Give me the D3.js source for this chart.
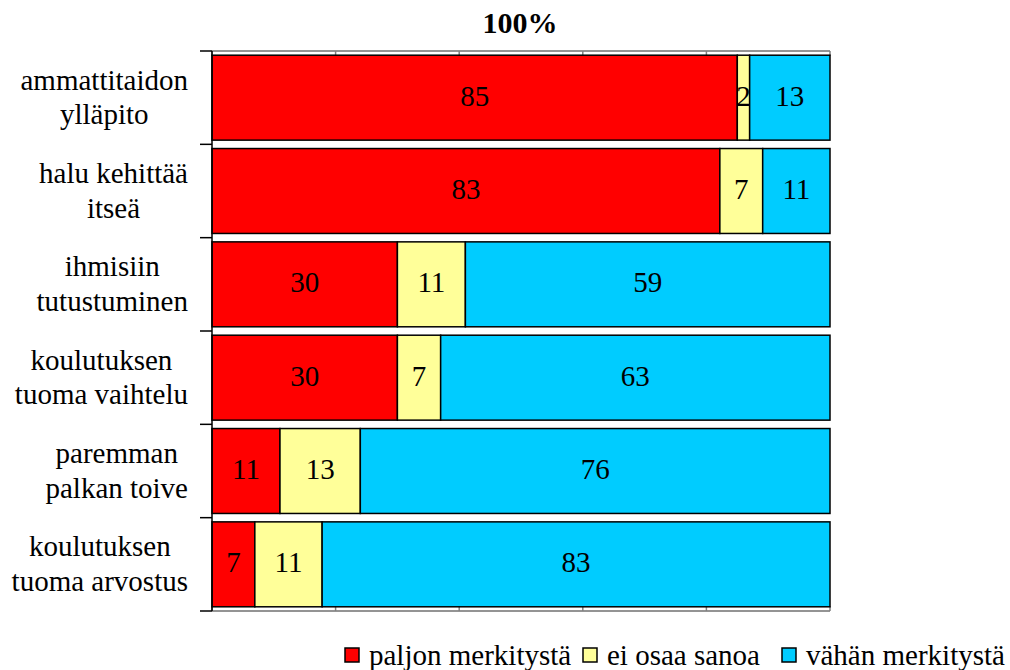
<!DOCTYPE html>
<html>
<head>
<meta charset="utf-8">
<script src="https://cdn.jsdelivr.net/npm/d3@7"></script>
<style>
  body { margin: 0; background: #fff; }
</style>
</head>
<body>
<svg width="1010" height="670"></svg>
<script>
var categories = [
  ["ammattitaidon", "ylläpito"],
  ["halu kehittää", "itseä"],
  ["ihmisiin", "tutustuminen"],
  ["koulutuksen", "tuoma vaihtelu"],
  ["paremman", "palkan toive"],
  ["koulutuksen", "tuoma arvostus"]
];
var paljon = [85, 83, 30, 30, 11, 7];
var eiOsaa = [2, 7, 11, 7, 13, 11];
var vahan  = [13, 11, 59, 63, 76, 83];
var seriesNames = ["paljon merkitystä", "ei osaa sanoa", "vähän merkitystä"];
var colors = ["#ff0000", "#ffff99", "#00ccff"];
var xTicks = [0, 20, 40, 60, 80, 100];

var FONT = "Liberation Serif";

var svg = d3.select("svg"),
    margin = {top: 51, right: 180, bottom: 60, left: 212},
    width = 830 - margin.left,
    height = 611 - margin.top;

var g = svg.append("g").attr("transform", "translate(" + margin.left + "," + margin.top + ")");

var rows = categories.map(function (c, i) {
  return {key: i, label: c, vals: [paljon[i], eiOsaa[i], vahan[i]]};
});

var x = d3.scaleLinear().domain([0, 1]).range([0, width]);
var y = d3.scaleBand().domain(d3.range(categories.length)).range([0, height]).paddingInner(0.09).paddingOuter(0.045);
var yOuter = d3.scaleBand().domain(d3.range(categories.length)).range([0, height]);

// top and bottom frame with value ticks
[0, height].forEach(function (yy, k) {
  g.append("line").attr("x1", 0).attr("x2", width).attr("y1", yy).attr("y2", yy)
    .attr("stroke", "#707070").attr("stroke-width", 1.5);
  g.selectAll(null).data(xTicks).enter().append("line")
    .attr("x1", function (d) { return x(d / 100); })
    .attr("x2", function (d) { return x(d / 100); })
    .attr("y1", yy).attr("y2", k === 0 ? yy + 5 : yy - 5)
    .attr("stroke", "#808080").attr("stroke-width", 1.5);
});

// bars
rows.forEach(function (r) {
  var total = d3.sum(r.vals), acc = 0;
  r.vals.forEach(function (v, j) {
    var x0 = x(acc / total), x1 = x((acc + v) / total);
    g.append("rect")
      .attr("x", x0).attr("y", y(r.key))
      .attr("width", x1 - x0).attr("height", y.bandwidth())
      .attr("fill", colors[j]).attr("stroke", "#000").attr("stroke-width", 1.5);
    g.append("text")
      .attr("x", (x0 + x1) / 2)
      .attr("y", y(r.key) + y.bandwidth() / 2)
      .attr("dy", "0.28em")
      .attr("text-anchor", "middle")
      .style("font-family", FONT)
      .style("font-size", "29px")
      .text(v);
    acc += v;
  });
});

// category axis
g.append("line").attr("x1", 0).attr("x2", 0).attr("y1", 0).attr("y2", height)
  .attr("stroke", "#000").attr("stroke-width", 1.5);
g.selectAll(null).data(d3.range(categories.length + 1)).enter().append("line")
  .attr("x1", -12).attr("x2", 0)
  .attr("y1", function (d) { return d * yOuter.step(); })
  .attr("y2", function (d) { return d * yOuter.step(); })
  .attr("stroke", "#000").attr("stroke-width", 1.5);

// labels: lines centred on each other, block right edge near the axis
rows.forEach(function (r) {
  var t = g.append("text")
    .attr("y", yOuter(r.key) + yOuter.bandwidth() / 2)
    .attr("text-anchor", "middle")
    .style("font-family", FONT)
    .style("font-size", "29px");
  var s1 = t.append("tspan").attr("dy", "-0.28em").text(r.label[0]);
  var s2 = t.append("tspan").attr("dy", "1.2em").text(r.label[1]);
  var w = Math.max(s1.node().getComputedTextLength(), s2.node().getComputedTextLength());
  var cx = -24 - w / 2;
  s1.attr("x", cx);
  s2.attr("x", cx);
});

// title
svg.append("text")
  .attr("x", 520).attr("y", 33)
  .attr("text-anchor", "middle")
  .style("font-family", FONT)
  .style("font-size", "30px").style("font-weight", "bold")
  .text("100%");

// legend
var legendX = [345, 583, 782];
seriesNames.forEach(function (name, j) {
  svg.append("rect")
    .attr("x", legendX[j]).attr("y", 648)
    .attr("width", 14).attr("height", 14)
    .attr("fill", colors[j]).attr("stroke", "#000").attr("stroke-width", 1.5);
  svg.append("text")
    .attr("x", legendX[j] + 24).attr("y", 665)
    .style("font-family", FONT)
    .style("font-size", "29px")
    .text(name);
});
</script>
</body>
</html>
